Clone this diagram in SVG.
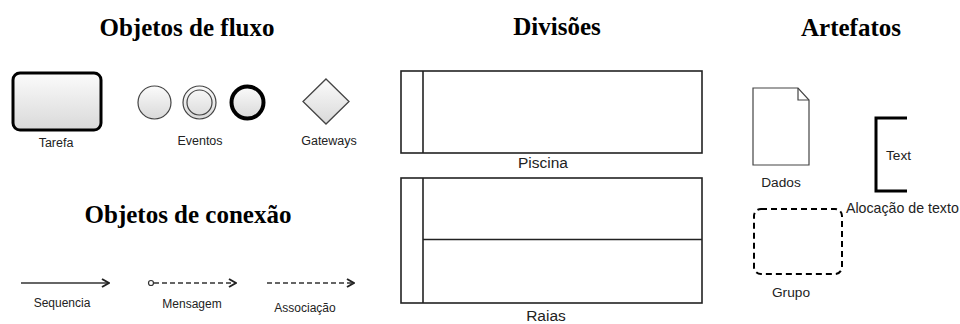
<svg xmlns="http://www.w3.org/2000/svg" width="960" height="324" viewBox="0 0 960 324">
  <style>
    .title { font-family: "Liberation Serif", "Times New Roman", serif; font-weight: bold; font-size: 25px; fill: #000; text-anchor: middle; }
    .lbl { font-family: "Liberation Sans", Arial, sans-serif; font-size: 12.5px; fill: #222; text-anchor: middle; }
    .big { font-size: 15.5px; }
    .art { font-size: 13.7px; }
    .small { font-size: 12px; }
    .lane { fill: #fff; stroke: #222; stroke-width: 1.6; }
    .conn { fill: none; stroke: #333; stroke-width: 1.4; }
    .dash { stroke-dasharray: 5 3; }
  </style>
  <defs>
    <linearGradient id="shade" x1="0" y1="0" x2="0" y2="1">
      <stop offset="0" stop-color="#fbfbfb"/>
      <stop offset="1" stop-color="#d9d9d9"/>
    </linearGradient>
    <marker id="chev" viewBox="0 0 10 10" refX="9" refY="5" markerWidth="10" markerHeight="10" markerUnits="userSpaceOnUse" orient="auto">
      <path d="M2,1 L9,5 L2,9" fill="none" stroke="#222" stroke-width="2"/>
    </marker>
  </defs>
  <rect width="960" height="324" fill="#fff"/>

  <!-- section headings -->
  <text class="title" x="187" y="36">Objetos de fluxo</text>
  <text class="title" x="557" y="35">Divisões</text>
  <text class="title" x="851" y="36">Artefatos</text>
  <text class="title" x="188" y="223">Objetos de conexão</text>

  <!-- flow objects -->
  <g id="tarefa">
    <rect x="13" y="73" width="88" height="57" rx="7" fill="url(#shade)" stroke="#000" stroke-width="3"/>
    <text class="lbl" x="56" y="147">Tarefa</text>
  </g>
  <g id="eventos">
    <circle cx="154.5" cy="102.5" r="16.5" fill="url(#shade)" stroke="#444" stroke-width="1.2"/>
    <circle cx="199.5" cy="102.5" r="16.5" fill="url(#shade)" stroke="#444" stroke-width="1.2"/>
    <circle cx="199.5" cy="102.5" r="12.5" fill="none" stroke="#444" stroke-width="1.2"/>
    <circle cx="247.5" cy="102.5" r="16" fill="url(#shade)" stroke="#000" stroke-width="4"/>
    <text class="lbl" x="200" y="145">Eventos</text>
  </g>
  <g id="gateways">
    <path d="M326,79 L349,101.5 L326,124 L303,101.5 Z" fill="url(#shade)" stroke="#444" stroke-width="1.3"/>
    <text class="lbl" x="329" y="145">Gateways</text>
  </g>

  <!-- divisions: pool and lanes -->
  <g id="piscina">
    <rect class="lane" x="401" y="71" width="301" height="82"/>
    <line class="lane" x1="423" y1="71" x2="423" y2="153"/>
    <text class="lbl big" x="543" y="168">Piscina</text>
  </g>
  <g id="raias">
    <rect class="lane" x="401" y="178" width="301" height="125"/>
    <line class="lane" x1="423" y1="178" x2="423" y2="303"/>
    <line class="lane" x1="423" y1="239.5" x2="702" y2="239.5"/>
    <text class="lbl big" x="546" y="321">Raias</text>
  </g>

  <!-- artifacts -->
  <g id="dados">
    <path d="M753,88 L798,88 L809,100 L809,165 L753,165 Z" fill="#fff" stroke="#444" stroke-width="1.2"/>
    <path d="M798,88 L798,100 L809,100" fill="none" stroke="#444" stroke-width="1.2"/>
    <text class="lbl art" x="781" y="187">Dados</text>
  </g>
  <g id="alocacao">
    <path d="M907,118 L876,118 L876,191 L907,191" fill="none" stroke="#000" stroke-width="3"/>
    <text class="lbl art" x="886" y="160" style="text-anchor:start">Text</text>
    <text class="lbl art" x="846" y="213" style="text-anchor:start;font-size:14.2px">Alocação de texto</text>
  </g>
  <g id="grupo">
    <rect x="754" y="209" width="88" height="65" rx="7" fill="none" stroke="#000" stroke-width="2" stroke-dasharray="6 4"/>
    <text class="lbl art" x="791" y="297">Grupo</text>
  </g>

  <!-- connecting objects -->
  <g id="connectors">
    <line class="conn" x1="21" y1="283" x2="109" y2="283" marker-end="url(#chev)"/>
    <circle cx="151" cy="283" r="2.5" fill="#fff" stroke="#333" stroke-width="1.2"/>
    <line class="conn dash" x1="154" y1="283" x2="236" y2="283" marker-end="url(#chev)"/>
    <line class="conn dash" x1="267" y1="283" x2="354" y2="283" marker-end="url(#chev)"/>
  </g>
  <g id="legendas">
    <text class="lbl small" x="62" y="307">Sequencia</text>
    <text class="lbl small" x="192" y="308">Mensagem</text>
    <text class="lbl small" x="305" y="312">Associação</text>
  </g>
</svg>
